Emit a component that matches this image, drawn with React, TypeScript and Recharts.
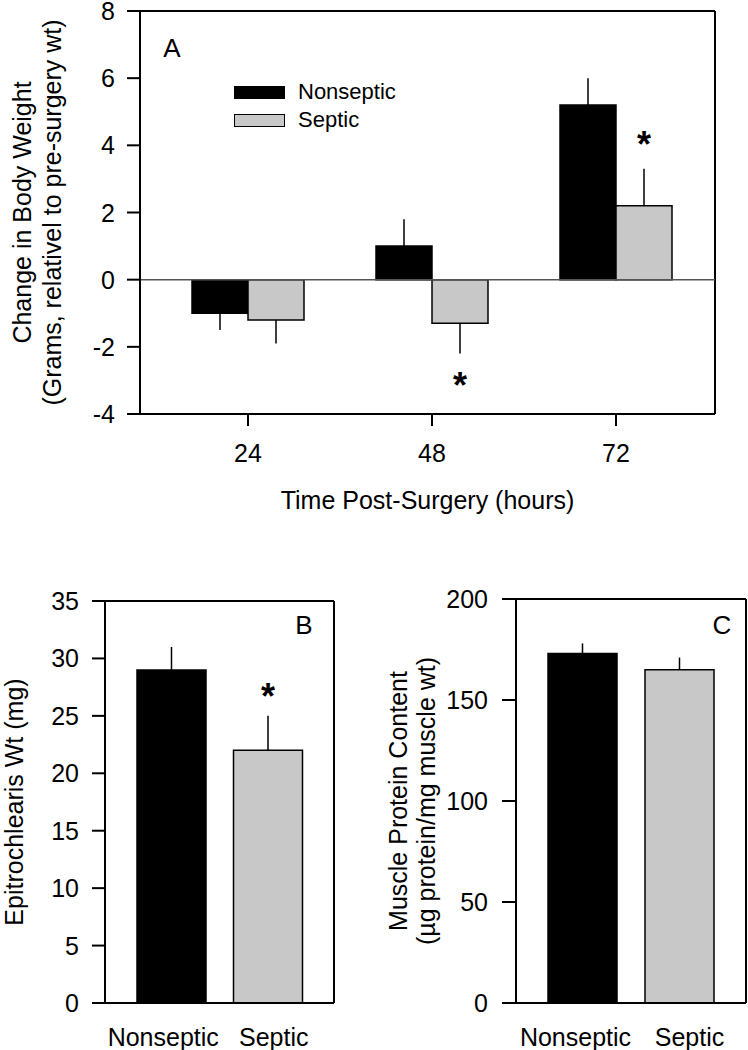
import React from 'react';
import { BarChart, Bar, XAxis, YAxis, ErrorBar, ReferenceLine, Legend, LabelList, Cell, CartesianGrid } from 'recharts';

const FONT = '"Liberation Sans", Arial, Helvetica, sans-serif';

// Panel A: change in body weight by time post-surgery
const hours = ['24', '48', '72'];
const nonsepticChange = [-1.0, 1.0, 5.2];
const nonsepticChangeSE = [0.5, 0.8, 0.8];
const septicChange = [-1.2, -1.3, 2.2];
const septicChangeSE = [0.7, 0.9, 1.1];
const septicChangeSig = [false, true, true];
const changeTicks = [-4, -2, 0, 2, 4, 6, 8];

// Panels B and C: single comparisons
const groups = ['Nonseptic', 'Septic'];
const groupColors = ['#000000', '#c8c8c8'];
const epiWt = [29, 22];
const epiWtSE = [2, 3];
const epiWtSig = [false, true];
const epiTicks = [0, 5, 10, 15, 20, 25, 30, 35];
const protein = [173, 165];
const proteinSE = [5, 6];
const proteinSig = [false, false];
const proteinTicks = [0, 50, 100, 150, 200];

const series = [
  { key: 'nonseptic', name: 'Nonseptic', color: '#000000' },
  { key: 'septic', name: 'Septic', color: '#c8c8c8' },
];

// error bars are drawn away from zero only
const oneSided = (v: number, se: number) => (v >= 0 ? [0, se] : [se, 0]);

const changeData = hours.map((h, i) => ({
  hour: h,
  nonseptic: nonsepticChange[i],
  septic: septicChange[i],
  nonsepticErr: oneSided(nonsepticChange[i], nonsepticChangeSE[i]),
  septicErr: oneSided(septicChange[i], septicChangeSE[i]),
}));

const makeGroupData = (vals: number[], se: number[]) =>
  groups.map((g, i) => ({ group: g, value: vals[i], err: oneSided(vals[i], se[i]) }));

const epiData = makeGroupData(epiWt, epiWtSE);
const proteinData = makeGroupData(protein, proteinSE);

const axisStyle = { stroke: '#000', strokeWidth: 2 };

// tick text, drawn by hand so the size is exact
const xTick = (shift: number[]) => (p: any) => (
  <text x={p.x + (shift[p.index] || 0)} y={p.y} dy={18} textAnchor="middle" fontSize={25} fill="#000" fontFamily={FONT}>
    {p.payload.value}
  </text>
);
const yTick = (p: any) => (
  <text x={p.x} y={p.y} dy={9} textAnchor="end" fontSize={25} fill="#000" fontFamily={FONT}>
    {p.payload.value}
  </text>
);

// right edge of the plot frame
const rightEdge = (p: any) => [p.offset.left + p.offset.width];

// asterisk placed past the end of the error bar
const starLabel = (vals: number[], se: number[], sig: boolean[], above: number, below: number) =>
  (props: any) => {
    const vb = props.viewBox || props;
    const i = props.index;
    if (i == null || !sig[i]) return null;
    const x = vb.x ?? props.x;
    const y = vb.y ?? props.y;
    const w = vb.width ?? props.width;
    const h = vb.height ?? props.height;
    const v = vals[i];
    const ppu = Math.abs(h) / Math.abs(v);
    const cx = x + w / 2;
    let cy;
    if (v >= 0) {
      cy = Math.min(y, y + h) - se[i] * ppu - above;
    } else {
      cy = Math.max(y, y + h) + se[i] * ppu + below;
    }
    return (
      <text x={cx} y={cy + 21} textAnchor="middle" fontSize={36} fontWeight="bold" fill="#000" fontFamily={FONT}>
        *
      </text>
    );
  };

const yTitle = (lines: string[], baselines: number[]) => (props: any) => {
  const vb = props.viewBox;
  const cy = vb.y + vb.height / 2;
  return (
    <g>
      {lines.map((l, i) => {
        const x = vb.x + baselines[i];
        return (
          <text key={i} x={x} y={cy} transform={`rotate(-90, ${x}, ${cy})`} textAnchor="middle"
            fontSize={25} fill="#000" fontFamily={FONT}>
            {l}
          </text>
        );
      })}
    </g>
  );
};

// letter drawn off the top frame line
const panelLetter = (letter: string, dx: number, dy: number, fromRight: boolean) => (props: any) => {
  const vb = props.viewBox;
  const x = fromRight ? vb.x + vb.width - dx : vb.x + dx;
  return (
    <text x={x} y={vb.y + dy} textAnchor="middle" fontSize={26} fill="#000" fontFamily={FONT}>
      {letter}
    </text>
  );
};

const renderLegend = () => (
  <div style={{ fontFamily: FONT }}>
    {series.map(s => (
      <div key={s.key} style={{ display: 'flex', alignItems: 'center', height: 28 }}>
        <span style={{ display: 'inline-block', width: 51, height: 13, background: s.color, border: '1.5px solid #000', boxSizing: 'border-box', marginRight: 13 }} />
        <span style={{ fontSize: 22, color: '#000' }}>{s.name}</span>
      </div>
    ))}
  </div>
);

const ChangeChart = () => (
  <BarChart width={748} height={520} data={changeData} margin={{ top: 11, right: 33, bottom: 0, left: 0 }}
    barCategoryGap={36} barGap={0}>
    <CartesianGrid horizontal={false} vertical verticalCoordinatesGenerator={rightEdge}
      stroke="#000" strokeWidth={2} fill="none" />
    <XAxis dataKey="hour" height={106} padding={{ left: 16, right: 7 }} tickSize={12} tickMargin={18}
      tick={xTick([0, 0, 0])} tickLine={axisStyle} axisLine={axisStyle}
      label={(p: any) => (
        <text x={p.viewBox.x + p.viewBox.width / 2} y={p.viewBox.y + 95} textAnchor="middle" fontSize={25} fill="#000" fontFamily={FONT}>
          Time Post-Surgery (hours)
        </text>
      )} />
    <YAxis domain={[-4, 8]} ticks={changeTicks} interval={0} width={140} tickSize={13} tickMargin={12}
      tick={yTick} tickLine={axisStyle} axisLine={axisStyle}
      label={yTitle(['Change in Body Weight', '(Grams, relativel to pre-surgery wt)'], [31, 61])} />
    <ReferenceLine y={0} stroke="#555" strokeWidth={1.5} />
    <ReferenceLine y={8} stroke="#000" strokeWidth={2} label={panelLetter('A', 32, 46, false)} />
    <Legend content={renderLegend} layout="vertical" align="center" verticalAlign="middle"
      wrapperStyle={{ left: 234, top: 78, width: 200, height: 'auto' }} />
    <Bar dataKey="nonseptic" name="Nonseptic" fill="#000" stroke="#000" strokeWidth={1.5} isAnimationActive={false}>
      <ErrorBar dataKey="nonsepticErr" width={0} stroke="#000" strokeWidth={1.5} isAnimationActive={false} />
    </Bar>
    <Bar dataKey="septic" name="Septic" fill="#c8c8c8" stroke="#000" strokeWidth={1.5} isAnimationActive={false}>
      <ErrorBar dataKey="septicErr" width={0} stroke="#000" strokeWidth={1.5} isAnimationActive={false} />
      <LabelList dataKey="septic" content={starLabel(septicChange, septicChangeSE, septicChangeSig, 33, 23)} />
    </Bar>
  </BarChart>
);

const GroupChart = (props: {
  data: any[]; vals: number[]; se: number[]; sig: boolean[]; max: number; ticks: number[];
  yWidth: number; marginTop: number; marginRight: number; tickSize: number; tickMargin: number;
  title: string[]; titleX: number[]; letter: string; letterDx: number; letterDy: number; labelShift: number[];
}) => (
  <BarChart width={374} height={490} data={props.data}
    margin={{ top: props.marginTop, right: props.marginRight, bottom: 0, left: 0 }} barCategoryGap={14}>
    <CartesianGrid horizontal={false} vertical verticalCoordinatesGenerator={rightEdge}
      stroke="#000" strokeWidth={2} fill="none" />
    <XAxis dataKey="group" height={47} padding={{ left: 18, right: 18 }} tickSize={0} tickMargin={25}
      tick={xTick(props.labelShift)} tickLine={false} axisLine={axisStyle} />
    <YAxis domain={[0, props.max]} ticks={props.ticks} interval={0} width={props.yWidth} tickSize={props.tickSize}
      tickMargin={props.tickMargin} tick={yTick} tickLine={axisStyle} axisLine={axisStyle}
      label={yTitle(props.title, props.titleX)} />
    <ReferenceLine y={props.max} stroke="#000" strokeWidth={2}
      label={panelLetter(props.letter, props.letterDx, props.letterDy, true)} />
    <Bar dataKey="value" stroke="#000" strokeWidth={1.5} isAnimationActive={false}>
      {props.data.map((d, i) => (
        <Cell key={d.group} fill={groupColors[i]} />
      ))}
      <ErrorBar dataKey="err" width={0} stroke="#000" strokeWidth={1.5} isAnimationActive={false} />
      <LabelList dataKey="value" content={starLabel(props.vals, props.se, props.sig, 28, 23)} />
    </Bar>
  </BarChart>
);

export default function App() {
  return (
    <div style={{ position: 'absolute', left: 0, top: 0, width: 748, height: 1050, background: '#fff', fontFamily: FONT }}>
      <div style={{ position: 'absolute', left: 0, top: 0 }}>
        <ChangeChart />
      </div>
      <div style={{ position: 'absolute', left: 0, top: 560 }}>
        <GroupChart data={epiData} vals={epiWt} se={epiWtSE} sig={epiWtSig} max={35} ticks={epiTicks}
          yWidth={105} marginTop={41} marginRight={40} tickSize={13} tickMargin={13}
          title={['Epitrochlearis Wt (mg)']} titleX={[23]} letter="B" letterDx={30} letterDy={33}
          labelShift={[-8, 6]} />
      </div>
      <div style={{ position: 'absolute', left: 374, top: 560 }}>
        <GroupChart data={proteinData} vals={protein} se={proteinSE} sig={proteinSig} max={200} ticks={proteinTicks}
          yWidth={142} marginTop={39} marginRight={2} tickSize={14} tickMargin={14}
          title={['Muscle Protein Content', '(µg protein/mg muscle wt)']} titleX={[33, 61]}
          letter="C" letterDx={24} letterDy={35} labelShift={[-7, 10]} />
      </div>
    </div>
  );
}
